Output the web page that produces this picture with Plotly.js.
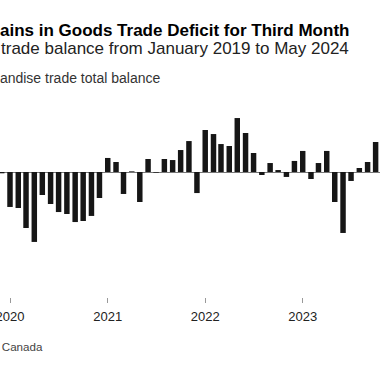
<!DOCTYPE html>
<html>
<head>
<meta charset="utf-8">
<script src="https://cdn.plot.ly/plotly-3.0.1.min.js"></script>
<style>html,body{margin:0;padding:0;background:#fff;}#chart{width:380px;height:367px;}</style>
</head>
<body>
<div id="chart"></div>
<script>
// Canada merchandise trade total balance (C$ billions), months visible in the crop
const months = [
  "2019-12-01",
  "2020-01-01","2020-02-01","2020-03-01","2020-04-01","2020-05-01","2020-06-01",
  "2020-07-01","2020-08-01","2020-09-01","2020-10-01","2020-11-01","2020-12-01",
  "2021-01-01","2021-02-01","2021-03-01","2021-04-01","2021-05-01","2021-06-01",
  "2021-07-01","2021-08-01","2021-09-01","2021-10-01","2021-11-01","2021-12-01",
  "2022-01-01","2022-02-01","2022-03-01","2022-04-01","2022-05-01","2022-06-01",
  "2022-07-01","2022-08-01","2022-09-01","2022-10-01","2022-11-01","2022-12-01",
  "2023-01-01","2023-02-01","2023-03-01","2023-04-01","2023-05-01","2023-06-01",
  "2023-07-01","2023-08-01","2023-09-01","2023-10-01"
];
const balance = [
  -0.1,
  -2.69,-2.77,-4.31,-5.38,-1.77,-2.46,
  -3.08,-3.23,-3.85,-3.77,-3.38,-2.0,
  1.08,0.77,-1.69,0.05,-2.31,1.0,
  -0.05,1.0,0.92,1.69,2.38,-1.62,
  3.23,2.92,2.15,2.0,4.15,3.0,
  1.46,-0.23,0.69,0.15,-0.38,0.85,
  1.62,-0.54,0.69,1.62,-2.31,-4.69,
  -0.69,0.31,0.77,2.31
];
const yearTicks = ["2020-01-01","2021-01-01","2022-01-01","2023-01-01","2024-01-01"];
const yearLabels = ["2020","2021","2022","2023","2024"];

const titleText = "Canada Remains in Goods Trade Deficit for Third Month";
const subtitleText = "Canada's trade balance from January 2019 to May 2024";
const seriesLabel = "Merchandise trade total balance";
const sourceText = "Source: Statistics Canada";

const W = 380, H = 367, T = 100, B = 70;
const plotH = H - T - B;
function py(p){ return (H - B - p) / plotH; }
function px(p){ return p / W; }

const FONT = "Liberation Sans, Arial, sans-serif";

const trace = {
  type: "bar",
  x: months,
  y: balance,
  width: 20.5 * 864e5,
  marker: {color: "#161616"},
  hoverinfo: "x+y"
};

const layout = {
  width: W, height: H,
  margin: {l: 0, r: 0, t: T, b: B, pad: 0},
  paper_bgcolor: "#fff", plot_bgcolor: "#fff",
  showlegend: false,
  font: {family: FONT, color: "#222"},
  xaxis: {
    type: "date",
    range: ["2019-11-24 13:26", "2023-10-17 10:00"],
    tickvals: yearTicks,
    ticktext: yearLabels,
    ticks: "outside", ticklen: 5, tickwidth: 1, tickcolor: "#999",
    ticklabeloverflow: "allow",
    ticklabelstandoff: 2,
    showgrid: false, showline: false, zeroline: false,
    tickfont: {family: FONT, size: 13, color: "#222"}
  },
  yaxis: {
    range: [-(H - B - 172) / 13, (172 - T) / 13],
    showgrid: false, showticklabels: false, ticks: "",
    zeroline: true, zerolinecolor: "#777", zerolinewidth: 1,
    showline: false
  },
  annotations: [
    {text: "<b>" + titleText + "</b>", xref: "paper", yref: "paper", x: px(351), y: py(30),
     xanchor: "right", yanchor: "middle", showarrow: false,
     font: {family: FONT, size: 17, color: "#000"}},
    {text: subtitleText, xref: "paper", yref: "paper", x: px(351), y: py(48.5),
     xanchor: "right", yanchor: "middle", showarrow: false,
     font: {family: FONT, size: 17, color: "#222"}},
    {text: seriesLabel, xref: "paper", yref: "paper", x: px(162), y: py(78),
     xanchor: "right", yanchor: "middle", showarrow: false,
     font: {family: FONT, size: 14, color: "#333"}},
    {text: sourceText, xref: "paper", yref: "paper", x: px(44.5), y: py(346.5),
     xanchor: "right", yanchor: "middle", showarrow: false,
     font: {family: FONT, size: 11.6, color: "#444"}}
  ]
};

Plotly.newPlot("chart", [trace], layout, {displayModeBar: false, staticPlot: true});
</script>
</body>
</html>
